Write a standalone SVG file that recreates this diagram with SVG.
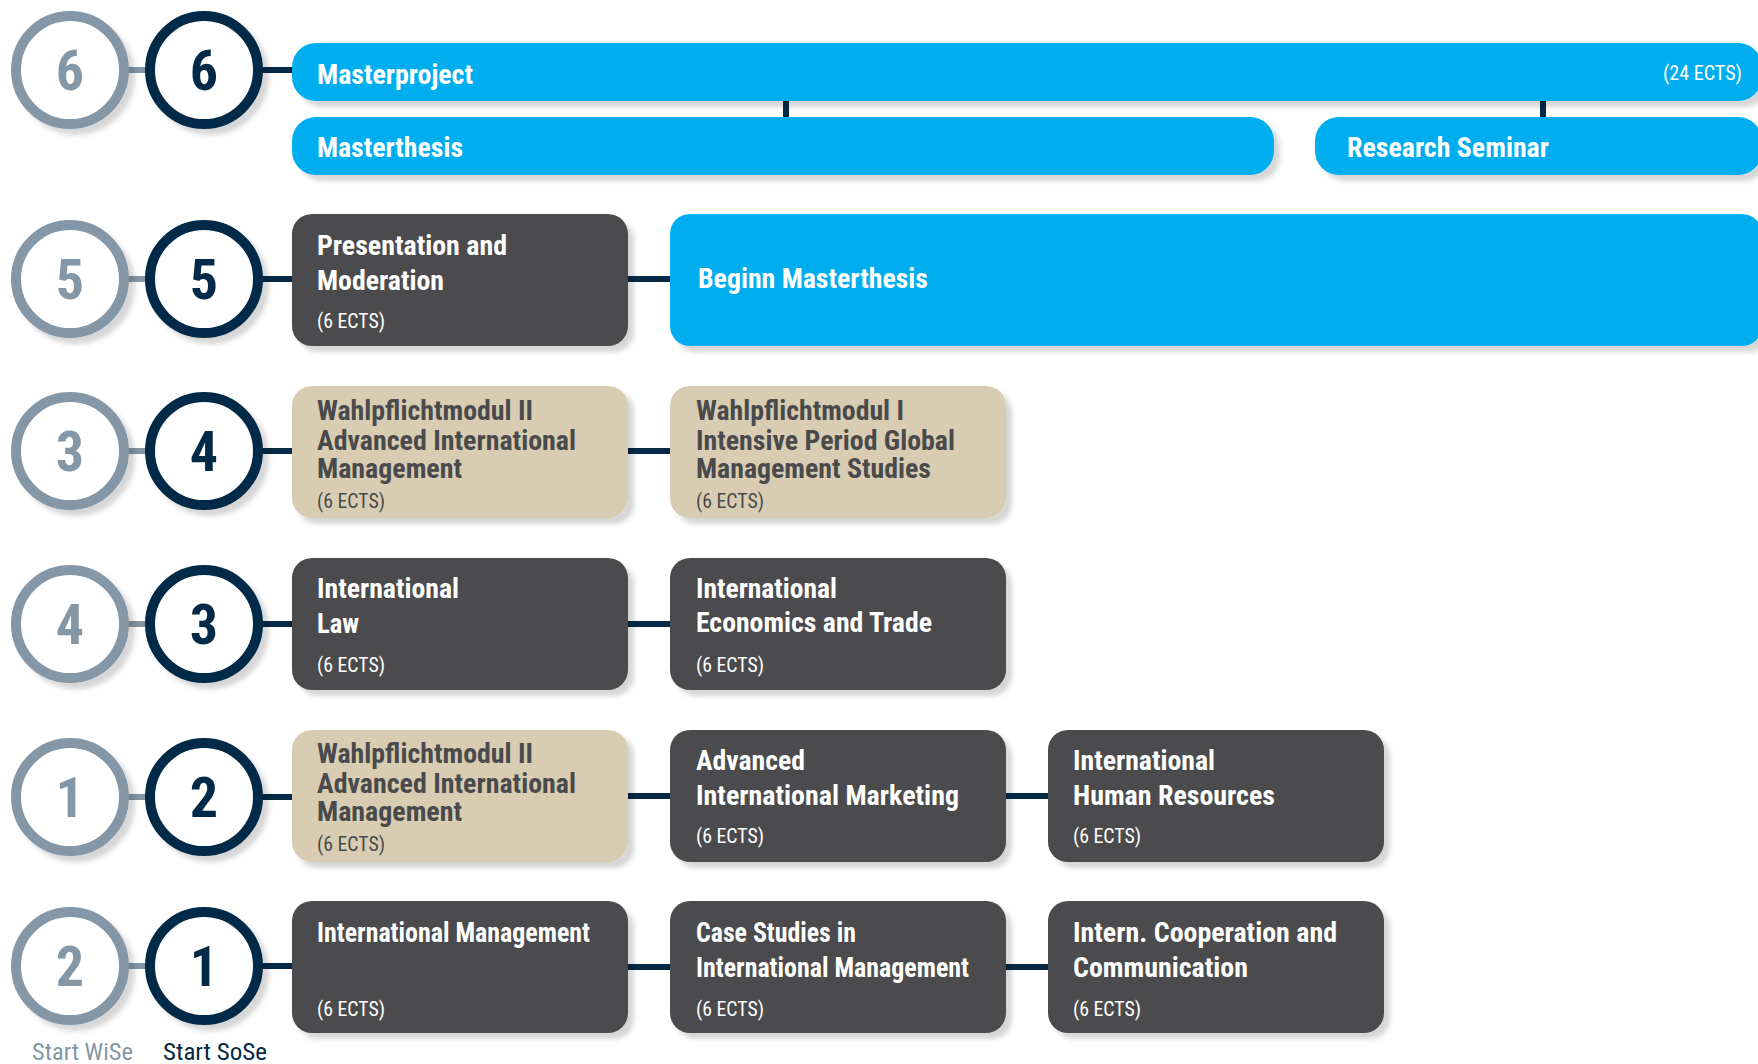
<svg xmlns="http://www.w3.org/2000/svg" width="1758" height="1064" viewBox="0 0 1758 1064">
<defs>
<filter id="sh" x="-10%" y="-20%" width="130%" height="150%">
<feDropShadow dx="6" dy="6" stdDeviation="2.5" flood-color="#000" flood-opacity="0.16"/>
</filter>
<style>
text{font-family:"Roboto Condensed","Roboto","Liberation Sans",sans-serif}
.t{font-weight:700;font-size:27px;fill:#fff}
.tb{font-weight:700;font-size:27px;fill:#4a4a4c}
.e{font-weight:400;font-size:20px;fill:#fff}
.eb{font-weight:400;font-size:20px;fill:#4a4a4c}
.blue{fill:#00aeef}
.dark{fill:#4b4c4e}
.beige{fill:#d8cdb2}
.cg{fill:#fff;stroke:#8497a6;stroke-width:10}
.cd{fill:#fff;stroke:#062946;stroke-width:10}
.ng{font-weight:700;font-size:56px;fill:#8497a6;text-anchor:middle}
.nd{font-weight:700;font-size:56px;fill:#062946;text-anchor:middle}
.lg{stroke:#8497a6;stroke-width:6}
.ln{stroke:#062946;stroke-width:6}
</style>
</defs>

<g id="connectors">
<line class="lg" x1="125" y1="70" x2="152" y2="70"/>
<line class="ln" x1="258" y1="70" x2="294" y2="70"/>
<line class="ln" x1="786" y1="99" x2="786" y2="119"/>
<line class="ln" x1="1543" y1="99" x2="1543" y2="119"/>
<line class="lg" x1="125" y1="279" x2="152" y2="279"/>
<line class="ln" x1="258" y1="279" x2="294" y2="279"/>
<line class="ln" x1="626" y1="279" x2="672" y2="279"/>
<line class="lg" x1="125" y1="451" x2="152" y2="451"/>
<line class="ln" x1="258" y1="451" x2="294" y2="451"/>
<line class="ln" x1="626" y1="451" x2="672" y2="451"/>
<line class="lg" x1="125" y1="624" x2="152" y2="624"/>
<line class="ln" x1="258" y1="624" x2="294" y2="624"/>
<line class="ln" x1="626" y1="624" x2="672" y2="624"/>
<line class="lg" x1="125" y1="797" x2="152" y2="797"/>
<line class="ln" x1="258" y1="797" x2="294" y2="797"/>
<line class="ln" x1="626" y1="796" x2="672" y2="796"/>
<line class="ln" x1="1004" y1="796" x2="1050" y2="796"/>
<line class="lg" x1="125" y1="966" x2="152" y2="966"/>
<line class="ln" x1="258" y1="966" x2="294" y2="966"/>
<line class="ln" x1="626" y1="967" x2="672" y2="967"/>
<line class="ln" x1="1004" y1="967" x2="1050" y2="967"/>
</g>

<g id="semester-circles">
<g id="c6w" filter="url(#sh)"><circle class="cg" cx="70" cy="70" r="54"/><text class="ng" x="70" y="90">6</text></g>
<g id="c6s" filter="url(#sh)"><circle class="cd" cx="204" cy="70" r="54"/><text class="nd" x="204" y="90">6</text></g>
<g id="c5w" filter="url(#sh)"><circle class="cg" cx="70" cy="279" r="54"/><text class="ng" x="70" y="299">5</text></g>
<g id="c5s" filter="url(#sh)"><circle class="cd" cx="204" cy="279" r="54"/><text class="nd" x="204" y="299">5</text></g>
<g id="c3w" filter="url(#sh)"><circle class="cg" cx="70" cy="451" r="54"/><text class="ng" x="70" y="471">3</text></g>
<g id="c4s" filter="url(#sh)"><circle class="cd" cx="204" cy="451" r="54"/><text class="nd" x="204" y="471">4</text></g>
<g id="c4w" filter="url(#sh)"><circle class="cg" cx="70" cy="624" r="54"/><text class="ng" x="70" y="644">4</text></g>
<g id="c3s" filter="url(#sh)"><circle class="cd" cx="204" cy="624" r="54"/><text class="nd" x="204" y="644">3</text></g>
<g id="c1w" filter="url(#sh)"><circle class="cg" cx="70" cy="797" r="54"/><text class="ng" x="70" y="817">1</text></g>
<g id="c2s" filter="url(#sh)"><circle class="cd" cx="204" cy="797" r="54"/><text class="nd" x="204" y="817">2</text></g>
<g id="c2w" filter="url(#sh)"><circle class="cg" cx="70" cy="966" r="54"/><text class="ng" x="70" y="986">2</text></g>
<g id="c1s" filter="url(#sh)"><circle class="cd" cx="204" cy="966" r="54"/><text class="nd" x="204" y="986">1</text></g>
</g>

<g id="start-labels">
<text x="32" y="1060" font-size="24" fill="#8497a6" textLength="101" lengthAdjust="spacingAndGlyphs">Start WiSe</text>
<text x="163" y="1060" font-size="24" fill="#062946" textLength="104" lengthAdjust="spacingAndGlyphs">Start SoSe</text>
</g>

<g id="masterproject">
<rect class="blue" filter="url(#sh)" x="292" y="43" width="1470" height="58" rx="24"/>
<text class="t" x="317" y="84" textLength="156" lengthAdjust="spacingAndGlyphs">Masterproject</text>
<text class="e" x="1742" y="80" text-anchor="end" textLength="79" lengthAdjust="spacingAndGlyphs">(24 ECTS)</text>
</g>
<g id="masterthesis">
<rect class="blue" filter="url(#sh)" x="292" y="117" width="982" height="58" rx="24"/>
<text class="t" x="317" y="157" textLength="146" lengthAdjust="spacingAndGlyphs">Masterthesis</text>
</g>
<g id="research-seminar">
<rect class="blue" filter="url(#sh)" x="1315" y="117" width="447" height="58" rx="24"/>
<text class="t" x="1347" y="157" textLength="202" lengthAdjust="spacingAndGlyphs">Research Seminar</text>
</g>

<g id="presentation">
<rect class="dark" filter="url(#sh)" x="292" y="214" width="336" height="132" rx="20"/>
<text class="t" x="317" y="255" textLength="190" lengthAdjust="spacingAndGlyphs">Presentation and</text>
<text class="t" x="317" y="290" textLength="127" lengthAdjust="spacingAndGlyphs">Moderation</text>
<text class="e" x="317" y="328" textLength="68" lengthAdjust="spacingAndGlyphs">(6 ECTS)</text>
</g>
<g id="beginn-masterthesis">
<rect class="blue" filter="url(#sh)" x="670" y="214" width="1092" height="132" rx="20"/>
<text class="t" x="698" y="288" textLength="230" lengthAdjust="spacingAndGlyphs">Beginn Masterthesis</text>
</g>

<g id="wpm2-a">
<rect class="beige" filter="url(#sh)" x="292" y="386" width="336" height="132" rx="20"/>
<text class="tb" x="317" y="420" textLength="216" lengthAdjust="spacingAndGlyphs">Wahlpflichtmodul II</text>
<text class="tb" x="317" y="450" textLength="259" lengthAdjust="spacingAndGlyphs">Advanced International</text>
<text class="tb" x="317" y="478" textLength="145" lengthAdjust="spacingAndGlyphs">Management</text>
<text class="eb" x="317" y="508" textLength="68" lengthAdjust="spacingAndGlyphs">(6 ECTS)</text>
</g>
<g id="wpm1">
<rect class="beige" filter="url(#sh)" x="670" y="386" width="336" height="132" rx="20"/>
<text class="tb" x="696" y="420" textLength="208" lengthAdjust="spacingAndGlyphs">Wahlpflichtmodul I</text>
<text class="tb" x="696" y="450" textLength="259" lengthAdjust="spacingAndGlyphs">Intensive Period Global</text>
<text class="tb" x="696" y="478" textLength="235" lengthAdjust="spacingAndGlyphs">Management Studies</text>
<text class="eb" x="696" y="508" textLength="68" lengthAdjust="spacingAndGlyphs">(6 ECTS)</text>
</g>

<g id="intl-law">
<rect class="dark" filter="url(#sh)" x="292" y="558" width="336" height="132" rx="20"/>
<text class="t" x="317" y="598" textLength="142" lengthAdjust="spacingAndGlyphs">International</text>
<text class="t" x="317" y="633" textLength="42" lengthAdjust="spacingAndGlyphs">Law</text>
<text class="e" x="317" y="672" textLength="68" lengthAdjust="spacingAndGlyphs">(6 ECTS)</text>
</g>
<g id="intl-econ">
<rect class="dark" filter="url(#sh)" x="670" y="558" width="336" height="132" rx="20"/>
<text class="t" x="696" y="598" textLength="141" lengthAdjust="spacingAndGlyphs">International</text>
<text class="t" x="696" y="632" textLength="236" lengthAdjust="spacingAndGlyphs">Economics and Trade</text>
<text class="e" x="696" y="672" textLength="68" lengthAdjust="spacingAndGlyphs">(6 ECTS)</text>
</g>

<g id="wpm2-b">
<rect class="beige" filter="url(#sh)" x="292" y="730" width="336" height="132" rx="20"/>
<text class="tb" x="317" y="763" textLength="216" lengthAdjust="spacingAndGlyphs">Wahlpflichtmodul II</text>
<text class="tb" x="317" y="793" textLength="259" lengthAdjust="spacingAndGlyphs">Advanced International</text>
<text class="tb" x="317" y="821" textLength="145" lengthAdjust="spacingAndGlyphs">Management</text>
<text class="eb" x="317" y="851" textLength="68" lengthAdjust="spacingAndGlyphs">(6 ECTS)</text>
</g>
<g id="adv-marketing">
<rect class="dark" filter="url(#sh)" x="670" y="730" width="336" height="132" rx="20"/>
<text class="t" x="696" y="770" textLength="109" lengthAdjust="spacingAndGlyphs">Advanced</text>
<text class="t" x="696" y="805" textLength="263" lengthAdjust="spacingAndGlyphs">International Marketing</text>
<text class="e" x="696" y="843" textLength="68" lengthAdjust="spacingAndGlyphs">(6 ECTS)</text>
</g>
<g id="human-resources">
<rect class="dark" filter="url(#sh)" x="1048" y="730" width="336" height="132" rx="20"/>
<text class="t" x="1073" y="770" textLength="142" lengthAdjust="spacingAndGlyphs">International</text>
<text class="t" x="1073" y="805" textLength="202" lengthAdjust="spacingAndGlyphs">Human Resources</text>
<text class="e" x="1073" y="843" textLength="68" lengthAdjust="spacingAndGlyphs">(6 ECTS)</text>
</g>

<g id="intl-management">
<rect class="dark" filter="url(#sh)" x="292" y="901" width="336" height="132" rx="20"/>
<text class="t" x="317" y="942" textLength="273" lengthAdjust="spacingAndGlyphs">International Management</text>
<text class="e" x="317" y="1016" textLength="68" lengthAdjust="spacingAndGlyphs">(6 ECTS)</text>
</g>
<g id="case-studies">
<rect class="dark" filter="url(#sh)" x="670" y="901" width="336" height="132" rx="20"/>
<text class="t" x="696" y="942" textLength="160" lengthAdjust="spacingAndGlyphs">Case Studies in</text>
<text class="t" x="696" y="977" textLength="273" lengthAdjust="spacingAndGlyphs">International Management</text>
<text class="e" x="696" y="1016" textLength="68" lengthAdjust="spacingAndGlyphs">(6 ECTS)</text>
</g>
<g id="cooperation">
<rect class="dark" filter="url(#sh)" x="1048" y="901" width="336" height="132" rx="20"/>
<text class="t" x="1073" y="942" textLength="264" lengthAdjust="spacingAndGlyphs">Intern. Cooperation and</text>
<text class="t" x="1073" y="977" textLength="175" lengthAdjust="spacingAndGlyphs">Communication</text>
<text class="e" x="1073" y="1016" textLength="68" lengthAdjust="spacingAndGlyphs">(6 ECTS)</text>
</g>
</svg>
